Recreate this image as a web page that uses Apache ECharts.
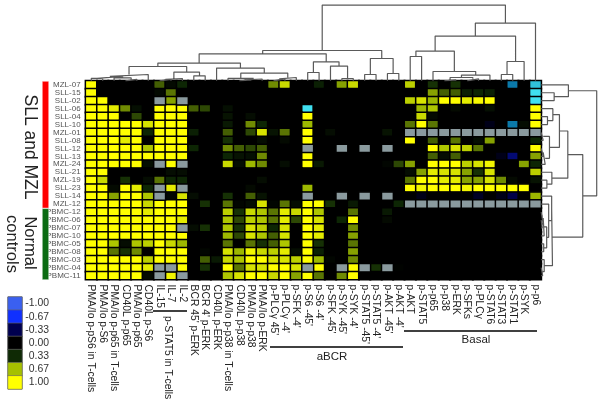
<!DOCTYPE html>
<html><head><meta charset="utf-8">
<style>html,body{margin:0;padding:0;background:#fff}#c{width:600px;height:403px}</style>
<script src="https://cdn.jsdelivr.net/npm/echarts@6/dist/echarts.min.js"></script>
</head><body><div id="c"></div>
<script>
const N = null; // grey cell: no measurement
const columns = ["PMA/Io p-pS6 in T-cells","PMA/Io p-S6","PMA/Io p-p65 in T-cells","CD40L p-p65","PMA/Io p-p65","CD40L p-S6","IL-15","IL-7","IL-2","BCR 45' p-ERK","BCR 4' p-ERK","CD40L p-ERK","PMA/Io p-p38 in T-cells","CD40L p-p38","PMA/Io p-p38","PMA/Io p-ERK","p-PLCγ 45'","p-PLCγ -4'","p-SFK -4'","p-S6 -45'","p-S6 -4'","p-SFK -45'","p-SYK -45'","p-SYK -4'","p-STAT5 -45'","p-STAT5 -4'","p-AKT -45'","p-AKT -4'","p-AKT","p-STAT5","p-p65","p-p38","p-ERK","p-SFKs","p-PLCγ","p-STAT6","p-STAT3","p-STAT1","p-SYK","p-p6"];
const rowsNames = ["MZL-07","SLL-15","SLL-02","SLL-06","SLL-04","SLL-10","MZL-01","SLL-08","SLL-12","SLL-13","MZL-24","SLL-21","MZL-19","SLL-23","SLL-14","MZL-12","PBMC-12","PBMC-06","PBMC-07","PBMC-10","PBMC-05","PBMC-08","PBMC-03","PBMC-04","PBMC-11"];
const values = [
[1,0,0,0,0,0,.45,.08,.3,0, 0,0,0,0,0,0,.55,.8,0,0, .25,0,.6,.8,0,0,0,0,.75,0, .35,0,.35,0,0,0,0,-1.67,0,-1.9],
[1,0,0,0,0,0,.08,.5,0,0, 0,0,0,0,0,0,0,0,0,0, 0,0,0,0,0,0,0,0,0,0, .6,.45,.45,.25,.3,.25,0,0,0,-2],
[1,1,0,0,0,0,N,.6,N,0, 0,0,0,0,0,0,0,0,0,0, 0,0,0,0,0,0,0,0,.75,.85, .65,1,1,.9,.97,1,0,0,0,-2],
[1,1,.9,.55,.12,0,1,1,1,.45, .4,0,.12,0,0,0,0,0,0,-2, 0,0,0,0,0,0,0,0,0,.65, .7,0,.08,0,0,.12,0,0,0,1],
[1,1,1,0,.4,0,1,1,1,0, 0,0,.15,0,.1,0,0,0,0,1, 0,0,0,0,0,0,0,0,0,.8, .08,0,0,0,0,0,0,0,0,1],
[1,1,1,1,1,.85,1,1,1,0, 0,0,.2,0,.55,.3,0,0,0,.65, 0,0,0,0,0,0,0,0,.5,1, .5,0,0,0,0,-.1,0,-1.67,.1,1],
[1,1,1,1,1,.3,1,1,1,.25, 0,0,.45,0,.4,.85,.15,.5,0,1, 0,.1,0,0,0,0,.15,0,N,N, N,N,N,N,N,N,N,N,N,N],
[1,1,1,.9,1,0,1,1,1,0, 0,0,.35,0,0,.1,0,.08,0,1, 0,0,0,0,0,0,0,0,1,0, .45,0,.5,0,.1,.6,0,0,0,.3],
[1,1,1,1,1,.7,1,1,1,.3, 0,0,.55,.45,.4,.45,0,0,0,N, 0,0,N,0,N,0,N,0,0,0, 1,.7,.85,.75,.5,0,0,0,0,1],
[1,1,1,1,1,1,1,1,1,0, 0,0,.3,.15,.12,.55,0,0,0,1, 0,0,0,0,0,0,0,0,0,0, .45,.1,.45,0,0,0,-.1,-.4,0,.6],
[1,1,1,1,1,.12,N,1,N,0, 0,0,.8,.1,.65,.55,0,.1,0,1, .2,0,0,0,0,0,.05,.4,.6,0, 1,1,1,.75,.85,.95,0,0,.6,.3],
[1,1,0,0,0,0,0,.1,.1,0, 0,0,0,0,0,0,0,0,0,0, 0,0,0,0,0,0,0,0,.1,.6, .9,.85,.85,.6,.35,.85,0,0,0,.75],
[1,.8,0,.35,0,.1,.5,.3,.3,0, 0,0,0,0,0,.1,0,0,0,0, 0,0,0,0,0,0,0,0,.5,1, 1,.9,.9,.6,.6,.85,.55,.08,0,.15],
[1,1,.08,1,.9,.3,N,.9,N,0, 0,0,0,0,.08,0,0,0,0,.65, 0,0,0,0,0,0,0,0,1,.95, 1,1,1,.95,1,1,1,1,1,0],
[1,1,.6,1,1,.7,N,.05,.85,.1, 0,0,.35,0,.45,.15,0,0,0,N, 0,0,N,0,N,0,N,0,0,-.1, 0,0,0,0,-.15,0,-.1,-.3,0,.65],
[1,1,1,1,1,.8,1,1,1,0, .35,0,.5,.05,.1,.85,.05,.5,.1,1, 1,.35,0,.2,0,0,0,.3,N,N, N,N,N,N,N,N,N,N,N,N],
[1,1,1,1,1,.9,1,1,1,0, 0,0,.75,.35,.8,.7,.5,.9,.8,1, .7,0,0,.5,0,0,.2,0,0,0, 0,0,0,0,0,0,0,0,0,0],
[1,1,1,1,1,1,1,1,.9,0, 0,0,.7,.4,.75,.7,.5,.9,.4,1, .85,0,.3,1,0,0,.08,0,0,0, 0,0,0,0,0,0,0,0,0,0],
[1,1,1,1,1,1,1,1,N,.1, .35,0,.7,.35,.85,.75,.3,.85,0,1, .9,0,0,.55,0,0,0,0,0,0, 0,0,0,0,0,0,0,0,0,0],
[1,1,1,1,1,1,1,1,1,0, 0,0,.65,.4,.85,.7,.45,.85,0,1, .9,0,0,.6,0,0,0,0,0,0, 0,0,0,0,0,0,0,0,0,0],
[1,1,.7,.1,.7,.75,1,.8,.65,0, 0,0,.5,0,.5,.35,.45,.7,0,1, .35,0,0,.5,0,0,0,0,0,0, 0,0,0,0,0,0,0,0,0,0],
[1,1,.5,.35,.55,0,1,1,1,0, .05,0,.85,.65,.95,.8,.75,.9,.1,1, .25,0,0,.6,0,0,0,0,0,0, 0,0,0,0,0,0,0,0,0,0],
[1,1,1,1,1,.75,1,1,1,0, .45,.2,.8,.7,1,1,.85,.85,.75,1, .65,.05,0,.55,0,0,0,0,0,0, 0,0,0,0,0,0,0,0,0,0],
[1,1,1,1,1,.9,N,N,1,0, .35,0,1,.5,.85,.85,1,1,.85,N, 1,0,N,1,N,.35,N,.02,0,0, 0,0,0,0,0,0,0,0,0,0],
[1,1,1,1,1,.08,N,.95,N,0, 0,0,.7,.85,1,1,.8,1,.6,1, .5,0,.55,1,0,0,0,0,0,0, 0,0,0,0,0,0,0,0,0,0]
];
// merge lists: [id, left child, right child, height]
const topMerges = [["a",0,1,2.5],["b",3,4,1.5],["c",2,"b",3],["d","a","c",4.5],["e","d",5,6.3],["f",6,7,1.5],["g","f",8,2.2],["h",9,10,5],["i","g","h",8.7],["j","e","i",14.3],["k",13,14,1],["l","k",15,1.8],["m",12,"l",2.4],["n",16,17,2],["o","n",18,3.3],["p","m","o",7.7],["q",11,"p",12.7],["r","j","q",17.7],["s",19,20,8.3],["t",22,23,2.3],["u",21,"t",14.7],["v","s","u",19],["w","r","v",27],["x",24,25,6.3],["y",26,27,7.3],["z","x","y",22.3],["aa","w","z",30.3],["ab",28,29,24.3],["ac",31,32,1],["ad",33,34,2],["ae","ac","ad",3.3],["af","ae",35,5.7],["ag",30,"af",9.3],["ah","ab","ag",29.7],["ai",36,37,6.3],["aj","ai",38,19.3],["ak","ah","aj",44.7],["al","ak",39,57.7],["am","aa","al",75.7]];
const rightMerges = [["a",1,2,13],["b",0,"a",27.3],["c",4,5,6.3],["d",3,"c",11.7],["e",6,7,2],["f",8,9,2],["g","f",10,4],["h","e","g",8.3],["i","d","h",18.3],["j",12,13,5.7],["k",11,"j",10.7],["l","i","k",26.7],["m",17,18,1],["n",16,"m",2],["o","n",19,3],["p",20,21,2.5],["q","o","p",5.5],["r",15,"q",7.5],["s",14,"r",10.5],["t",23,24,1.5],["u",22,"t",3],["v","s","u",11.3],["w","l","v",41.7],["x","b","w",55.7]];
const legendValues = [-1,-0.67,-0.33,0,0.33,0.67,1];
const legendLabels = ["-1.00","-0.67","-0.33","0.00","0.33","0.67","1.00"];
const groupSizes = [16,9];
const groupColors = ["#ff0000","#0b6b12"];
const scaleColors = ["#40e0f0","#0a78a8","#0a50c8","#3a60f0","#1030ff","#000050","#000000","#0f2a05","#a5c000","#ffff00"];
const GREY = "#8a9a9e";

function dendro(merges, along){ // returns line points; along(pos,h) maps to [x,y]
  const node = {}; const pts = [];
  const get = k => typeof k === "number" ? {pos:k+.5,h:0} : node[k];
  merges.forEach(([id,l,r,h])=>{
    const a=get(l), b=get(r);
    pts.push(along(a.pos,a.h),along(a.pos,h),along(b.pos,h),along(b.pos,b.h),[null,null]);
    node[id]={pos:(a.pos+b.pos)/2,h};
  });
  return pts;
}
const cells=[], grey=[];
values.forEach((row,r)=>row.forEach((v,c)=>{ if(v===N) grey.push([c,r,0]); else cells.push([c,r,v]); }));
const hidden={show:false};
const L=85.6,W=455.6,T=80.8,H=198.8;
const chart=echarts.init(document.getElementById("c"),null,{renderer:"canvas"});
const txt={fontFamily:"Liberation Sans, Arial, sans-serif"};
chart.setOption({
  animation:false, backgroundColor:"#fff",
  visualMap:{show:false,type:"continuous",min:-2,max:1,seriesIndex:[0,4],inRange:{color:scaleColors},dimension:2},
  grid:[
    {left:L,top:T,width:W,height:H,show:true,backgroundColor:"#000",borderWidth:0},
    {left:L,top:0,width:W,height:T},
    {left:L+W,top:T,width:59,height:H},
    {left:42,top:81,width:7,height:199},
    {left:8,top:297,width:14,height:92}
  ],
  xAxis:[
    {type:"category",gridIndex:0,data:columns,position:"bottom",axisLine:hidden,axisTick:hidden,splitLine:hidden,
     axisLabel:{...txt,rotate:-90,interval:0,fontSize:10.3,color:"#222",margin:5,hideOverlap:false,padding:[4,0,0,0]}},
    {type:"value",gridIndex:1,min:0,max:40,show:false},
    {type:"value",gridIndex:2,min:0,max:59,show:false},
    {type:"category",gridIndex:3,data:["group"],show:false},
    {type:"category",gridIndex:4,data:["scale"],show:false}
  ],
  yAxis:[
    {type:"category",gridIndex:0,data:rowsNames,inverse:true,axisLine:hidden,axisTick:hidden,splitLine:hidden,
     axisLabel:{fontFamily:"Liberation Sans Narrow, Liberation Sans, sans-serif",interval:0,fontSize:8,color:"#555",margin:5,hideOverlap:false}},
    {type:"value",gridIndex:1,min:0,max:T,show:false},
    {type:"value",gridIndex:2,min:0,max:25,inverse:true,show:false},
    {type:"value",gridIndex:3,min:0,max:25,inverse:true,show:false},
    {type:"category",gridIndex:4,data:legendLabels,inverse:true,position:"right",axisLine:hidden,axisTick:hidden,splitLine:hidden,
     axisLabel:{...txt,interval:0,fontSize:10.4,color:"#333",align:"right",margin:27}}
  ],
  series:[
    {type:"heatmap",xAxisIndex:0,yAxisIndex:0,data:cells,itemStyle:{borderColor:"#000",borderWidth:1.5},emphasis:{disabled:true}},
    {type:"heatmap",xAxisIndex:0,yAxisIndex:0,data:grey,itemStyle:{color:GREY,borderColor:"#000",borderWidth:1.5},emphasis:{disabled:true}},
    {type:"line",xAxisIndex:1,yAxisIndex:1,data:dendro(topMerges,(p,h)=>[p,h]),showSymbol:false,connectNulls:false,lineStyle:{color:"#5a5a5a",width:1.2},itemStyle:{color:"#5a5a5a"}},
    {type:"line",xAxisIndex:2,yAxisIndex:2,data:dendro(rightMerges,(p,h)=>[h,p]),showSymbol:false,connectNulls:false,lineStyle:{color:"#5a5a5a",width:1.2},itemStyle:{color:"#5a5a5a"}},
    {type:"heatmap",xAxisIndex:4,yAxisIndex:4,data:legendValues.map((v,i)=>[0,i,v]),itemStyle:{borderColor:"#666",borderWidth:0.6},emphasis:{disabled:true}},
    ...groupSizes.map((s,i)=>({type:"bar",xAxisIndex:3,yAxisIndex:3,stack:"g",barWidth:7,data:[s],itemStyle:{color:groupColors[i],borderColor:"#fff",borderWidth:0.5}}))
  ],
  graphic:[
    {type:"text",x:30,y:147,rotation:-Math.PI/2,style:{text:"SLL and MZL",...txt,fontSize:17.5,fill:"#222",textAlign:"center",textVerticalAlign:"middle"}},
    {type:"text",x:30,y:243,rotation:-Math.PI/2,style:{text:"Normal",...txt,fontSize:16.5,fill:"#222",textAlign:"center",textVerticalAlign:"middle"}},
    {type:"text",x:12,y:244,rotation:-Math.PI/2,style:{text:"controls",...txt,fontSize:16.5,fill:"#222",textAlign:"center",textVerticalAlign:"middle"}},
    {type:"rect",shape:{x:8,y:297,width:14,height:92},style:{fill:"none",stroke:"#666",lineWidth:1}},
    {type:"line",shape:{x1:153,y1:311,x2:187,y2:311},style:{stroke:"#000",lineWidth:1.3}},
    {type:"text",x:168,y:316,rotation:-Math.PI/2,style:{text:"p-STAT5 in T-cells",...txt,fontSize:10.3,fill:"#222",textAlign:"left",textVerticalAlign:"middle"}},
    {type:"line",shape:{x1:270,y1:347,x2:403,y2:347},style:{stroke:"#000",lineWidth:1.3}},
    {type:"text",x:332,y:357,style:{text:"aBCR",...txt,fontSize:11.5,fill:"#222",textAlign:"center",textVerticalAlign:"middle"}},
    {type:"line",shape:{x1:404,y1:331,x2:537,y2:331},style:{stroke:"#000",lineWidth:1.3}},
    {type:"text",x:476,y:339.5,style:{text:"Basal",...txt,fontSize:11.5,fill:"#222",textAlign:"center",textVerticalAlign:"middle"}}
  ]
});
</script></body></html>
